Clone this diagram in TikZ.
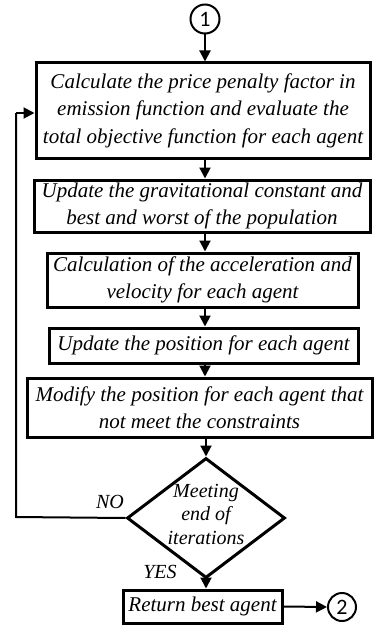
\documentclass[tikz,border=0pt]{standalone}
\usepackage{fontspec}
\setmainfont{Liberation Serif}
\newfontfamily\circfont{Carlito}
\usetikzlibrary{shapes.geometric,arrows.meta}
\begin{document}
\begin{tikzpicture}[x=1pt,y=-1pt,
  procbox/.style={draw,line width=3pt,inner sep=0pt,align=center,font=\fontsize{21}{27.5}\selectfont\itshape},
  decbox/.style={draw,diamond,line width=3pt,inner sep=0pt},
  dectext/.style={inner sep=0pt,align=center,font=\fontsize{20}{23.5}\selectfont\itshape},
  conn/.style={draw,circle,line width=2pt,inner sep=0pt,minimum size=29pt,font=\fontsize{22}{24}\selectfont\circfont},
  arr/.style={line width=2pt,-{Triangle[length=11pt,width=11pt]}},
  lab/.style={font=\fontsize{20}{22}\selectfont\itshape}]
\useasboundingbox (0,0) rectangle (376,626);
\node[conn] (c1) at (205,19) {1};
\node[procbox,minimum width=334pt,minimum height=95pt] (b1) at (203,110.5)
  {Calculate the price penalty factor in\\emission function and evaluate the\\total objective function for each agent};
\node[procbox,minimum width=336pt,minimum height=52pt] (b2) at (202,206)
  {Update the gravitational constant and\\best and worst of the population};
\node[procbox,minimum width=311pt,minimum height=54pt] (b3) at (202.5,280)
  {Calculation of the acceleration and\\velocity for each agent};
\node[procbox,minimum width=309pt,minimum height=35pt] (b4) at (203.5,345.5)
  {Update the position for each agent};
\node[procbox,minimum width=345pt,minimum height=59pt] (b5) at (199.5,407.5)
  {Modify the position for each agent that\\not meet the constraints};
\node[decbox,minimum width=158pt,minimum height=120pt] (d) at (206,518) {};
\node[dectext] (dt) at (206,514) {Meeting\\end of\\iterations};
\node[procbox,minimum width=159pt,minimum height=33pt] (r) at (202.5,606.5)
  {Return best agent};
\node[conn,minimum size=28pt] (c2) at (342,607) {2};
\coordinate (lb) at (16,517);
\coordinate (lt) at (16,113);
\draw[arr] (c1) -- (c1|-b1.north);
\draw[arr] (b1.south-|205,0) -- (205,0|-b2.north);
\draw[arr] (b2.south-|205,0) -- (205,0|-b3.north);
\draw[arr] (b3.south-|205,0) -- (205,0|-b4.north);
\draw[arr] (b4.south-|205,0) -- (205,0|-b5.north);
\draw[arr] (b5.south-|206,0) -- (d.north);
\draw[arr] (d.south) -- (d.south|-r.north);
\draw[arr] (r.east) -- (c2.west);
\draw[line width=2pt] (d.west) -- (lb) -- (lt);
\draw[arr] (lt) -- (lt-|b1.west);
\node[lab] (no) at (110,502) {NO};
\node[lab] (yes) at (160,572) {YES};
\end{tikzpicture}
\end{document}
